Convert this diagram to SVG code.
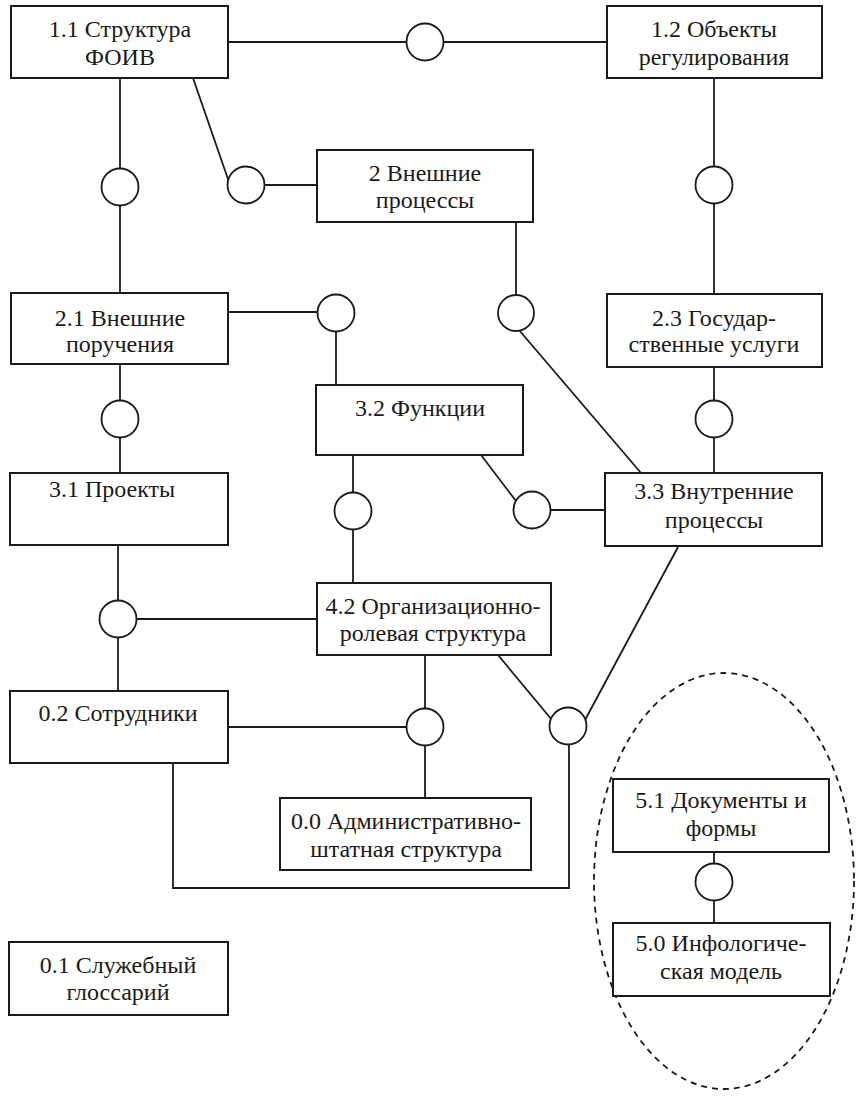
<svg xmlns="http://www.w3.org/2000/svg" width="862" height="1103" viewBox="0 0 862 1103">
<style>
.box{fill:#fff;stroke:#1a1a1a;stroke-width:2}
.c{fill:#fff;stroke:#1a1a1a;stroke-width:1.8}
.ln{fill:none;stroke:#1a1a1a;stroke-width:1.8}
.t{font-family:"Liberation Serif","Times New Roman",serif;font-size:24px;fill:#1a1a1a;text-anchor:middle}
.el{fill:none;stroke:#1a1a1a;stroke-width:1.8;stroke-dasharray:6 5}
</style>
<rect width="862" height="1103" fill="#fff"/>
<ellipse class="el" cx="724" cy="881" rx="130" ry="208"/>
<g id="connectors">
<line class="ln" x1="228" y1="42" x2="407" y2="42"/>
<line class="ln" x1="443" y1="42" x2="607" y2="42"/>
<line class="ln" x1="120" y1="78" x2="120" y2="168"/>
<line class="ln" x1="120" y1="206" x2="120" y2="293"/>
<line class="ln" x1="193" y1="78" x2="229" y2="182"/>
<line class="ln" x1="264" y1="185" x2="317" y2="185"/>
<line class="ln" x1="714" y1="78" x2="714" y2="167"/>
<line class="ln" x1="714" y1="203" x2="714" y2="294"/>
<line class="ln" x1="516" y1="222" x2="516" y2="295"/>
<line class="ln" x1="519" y1="330" x2="641" y2="473"/>
<line class="ln" x1="228" y1="312" x2="318" y2="312"/>
<line class="ln" x1="336" y1="331" x2="336" y2="385"/>
<line class="ln" x1="120" y1="364" x2="120" y2="400"/>
<line class="ln" x1="120" y1="438" x2="120" y2="473"/>
<line class="ln" x1="714" y1="367" x2="714" y2="400"/>
<line class="ln" x1="714" y1="438" x2="714" y2="473"/>
<line class="ln" x1="353" y1="455" x2="353" y2="492"/>
<line class="ln" x1="353" y1="530" x2="353" y2="583"/>
<line class="ln" x1="481" y1="455" x2="516" y2="501"/>
<line class="ln" x1="550" y1="510" x2="605" y2="510"/>
<line class="ln" x1="118" y1="545" x2="118" y2="600"/>
<line class="ln" x1="136" y1="619" x2="317" y2="619"/>
<line class="ln" x1="118" y1="638" x2="118" y2="691"/>
<line class="ln" x1="228" y1="727" x2="407" y2="727"/>
<line class="ln" x1="425" y1="655" x2="425" y2="709"/>
<line class="ln" x1="425" y1="745" x2="425" y2="798"/>
<line class="ln" x1="498" y1="655" x2="552" y2="720"/>
<line class="ln" x1="585" y1="720" x2="678" y2="547"/>
<polyline class="ln" points="173,763 173,888 569,888 569,744"/>
<line class="ln" x1="714" y1="852" x2="714" y2="864"/>
<line class="ln" x1="714" y1="900" x2="714" y2="923"/>
<circle class="c" cx="425" cy="42" r="18.5"/>
<circle class="c" cx="120" cy="187" r="18.5"/>
<circle class="c" cx="246" cy="185" r="18.5"/>
<circle class="c" cx="714" cy="185" r="18.5"/>
<circle class="c" cx="516" cy="313" r="18"/>
<circle class="c" cx="336" cy="313" r="18.5"/>
<circle class="c" cx="120" cy="419" r="18.5"/>
<circle class="c" cx="714" cy="419" r="18.5"/>
<circle class="c" cx="353" cy="511" r="18.5"/>
<circle class="c" cx="532" cy="510" r="18.5"/>
<circle class="c" cx="118" cy="619" r="18.5"/>
<circle class="c" cx="425" cy="727" r="18.5"/>
<circle class="c" cx="568" cy="726" r="18.5"/>
<circle class="c" cx="714" cy="882" r="18.5"/>
</g>
<g id="n11"><rect class="box" x="11" y="6" width="217" height="72"/><text class="t" x="120" y="37">1.1 Структура</text><text class="t" x="120" y="65">ФОИВ</text></g>
<g id="n12"><rect class="box" x="607" y="6" width="215" height="72"/><text class="t" x="714" y="37">1.2 Объекты</text><text class="t" x="714" y="65">регулирования</text></g>
<g id="n2"><rect class="box" x="317" y="150" width="216" height="72"/><text class="t" x="425" y="181">2 Внешние</text><text class="t" x="425" y="208">процессы</text></g>
<g id="n21"><rect class="box" x="11" y="293" width="217" height="71"/><text class="t" x="120" y="326">2.1 Внешние</text><text class="t" x="120" y="352">поручения</text></g>
<g id="n23"><rect class="box" x="607" y="294" width="215" height="73"/><text class="t" x="714" y="326">2.3 Государ-</text><text class="t" x="714" y="352">ственные услуги</text></g>
<g id="n32"><rect class="box" x="316" y="385" width="207" height="70"/><text class="t" x="420" y="416">3.2 Функции</text></g>
<g id="n31"><rect class="box" x="10" y="473" width="218" height="72"/><text class="t" x="112" y="497">3.1 Проекты</text></g>
<g id="n33"><rect class="box" x="605" y="473" width="217" height="73"/><text class="t" x="714" y="499">3.3 Внутренние</text><text class="t" x="714" y="528">процессы</text></g>
<g id="n42"><rect class="box" x="317" y="583" width="234" height="72"/><text class="t" x="433" y="614">4.2 Организационно-</text><text class="t" x="433" y="641">ролевая структура</text></g>
<g id="n02"><rect class="box" x="10" y="691" width="218" height="72"/><text class="t" x="118" y="721">0.2 Сотрудники</text></g>
<g id="n00"><rect class="box" x="280" y="798" width="251" height="72"/><text class="t" x="406" y="829">0.0 Административно-</text><text class="t" x="406" y="857">штатная структура</text></g>
<g id="n01"><rect class="box" x="9" y="942" width="219" height="73"/><text class="t" x="118" y="973">0.1 Служебный</text><text class="t" x="118" y="1000">глоссарий</text></g>
<g id="n51"><rect class="box" x="613" y="779" width="216" height="73"/><text class="t" x="721" y="808">5.1 Документы и</text><text class="t" x="721" y="836">формы</text></g>
<g id="n50"><rect class="box" x="613" y="923" width="217" height="73"/><text class="t" x="721" y="951">5.0 Инфологиче-</text><text class="t" x="721" y="979">ская модель</text></g>
</svg>
